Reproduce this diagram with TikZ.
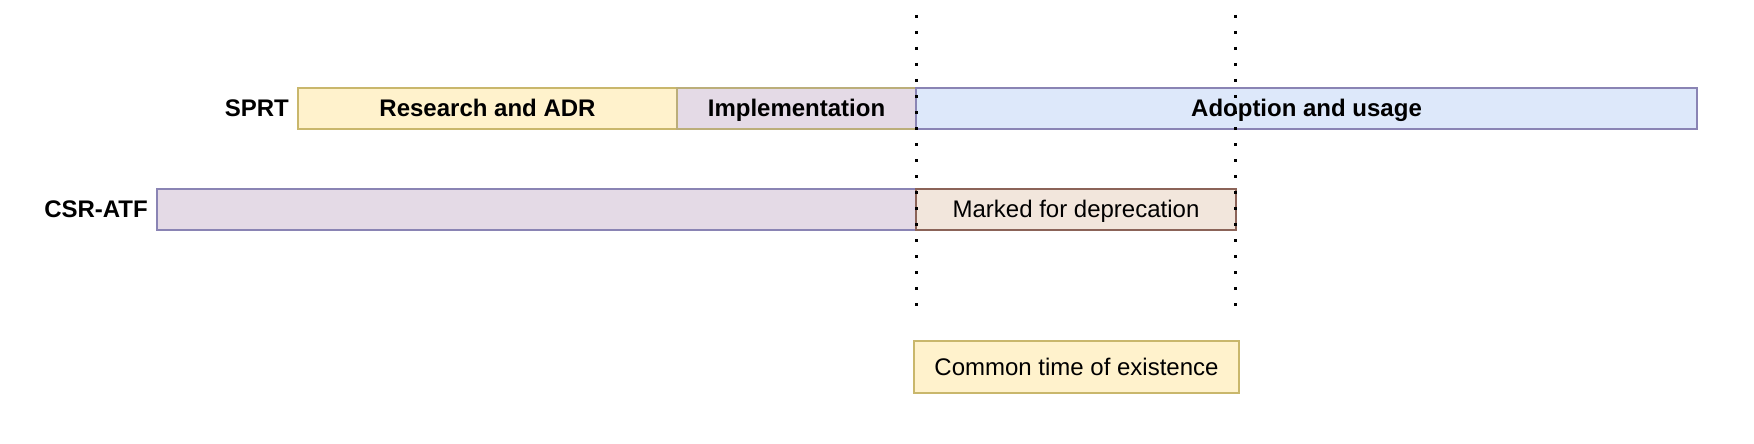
\documentclass[tikz,border=0pt]{standalone}
\usepackage{fontspec}
\setmainfont{Liberation Sans}
\definecolor{yelfill}{HTML}{FFF2CC}
\definecolor{yeldraw}{HTML}{C9B76C}
\definecolor{purfill}{HTML}{E4DAE6}
\definecolor{purdraw}{HTML}{8A84B4}
\definecolor{blufill}{HTML}{DDE8FA}
\definecolor{impdraw}{HTML}{BBAE7A}
\definecolor{depfill}{HTML}{F2E6DC}
\definecolor{depdraw}{HTML}{8B6358}
\begin{document}
\begin{tikzpicture}[x=1pt,y=-1pt,
    bar/.style={draw,line width=2pt,inner sep=0pt,outer sep=0pt,
        minimum height=41pt,text height=19pt,text depth=2pt,
        font=\fontsize{24}{28}\selectfont},
    boldbar/.style={bar,font=\fontsize{24}{28}\selectfont\bfseries},
    lbl/.style={anchor=east,inner sep=0pt,text height=19pt,text depth=2pt,
        font=\fontsize{24}{28}\selectfont\bfseries},
    timeline/.style={line width=3pt,dash pattern=on 3pt off 13pt}]
    \useasboundingbox (0,0) rectangle (1754,444);
    % полосы
    \node[lbl] (sprt) at (289,108.5) {SPRT};
    \node[boldbar,fill=yelfill,draw=yeldraw,minimum width=379pt] (research) at (487.5,108.5) {Research and ADR};
    \node[boldbar,fill=purfill,draw=impdraw,minimum width=239pt] (impl) at (796.5,108.5) {Implementation};
    \node[boldbar,fill=blufill,draw=purdraw,minimum width=781pt] (adoption) at (1306.5,108.5) {Adoption and usage};

    \node[lbl] (csr) at (148,209) {CSR-ATF};
    \node[bar,fill=purfill,draw=purdraw,minimum width=759pt] (csrbar) at (536.5,209) {};
    \node[bar,fill=depfill,draw=depdraw,minimum width=320pt] (marked) at (1076,209) {Marked for deprecation};

    \node[bar,fill=yelfill,draw=yeldraw,minimum width=325pt,minimum height=52pt] (common) at (1076.5,367) {Common time of existence};

    % границы
    \coordinate (starttop) at (916,15);
    \coordinate (startbot) at (916,309);
    \coordinate (endtop) at (1235.5,15);
    \coordinate (endbot) at (1235.5,309);
    \draw[timeline] (starttop) -- (startbot);
    \draw[timeline] (endtop) -- (endbot);
\end{tikzpicture}
\end{document}
